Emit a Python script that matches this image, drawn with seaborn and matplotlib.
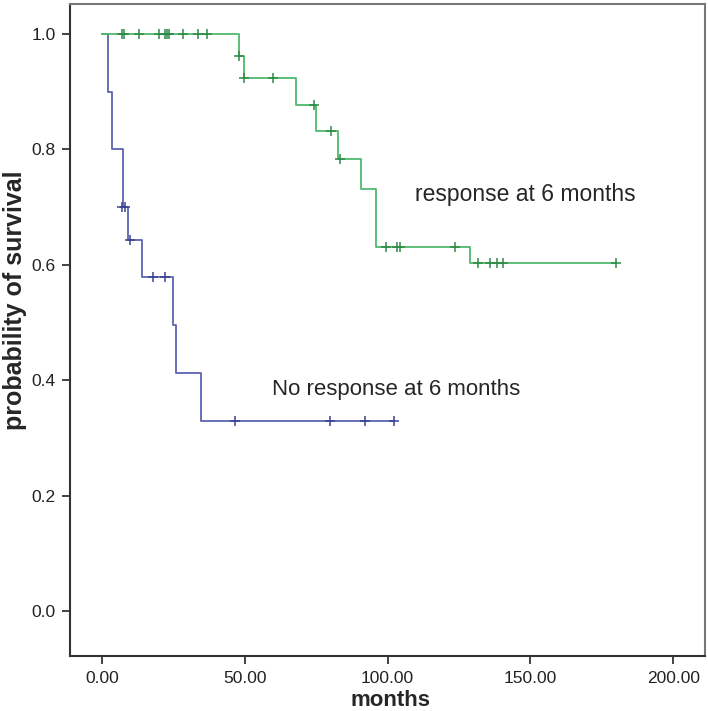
import matplotlib
matplotlib.use("Agg")
import matplotlib.pyplot as plt
import seaborn as sns
import pandas as pd

# ---- data ----
resp_t = [0, 48.0, 49.6, 68.0, 74.8, 82.6, 90.8, 95.8, 128.9, 180.0]
resp_s = [1.0, 0.962, 0.923, 0.877, 0.832, 0.783, 0.732, 0.630, 0.603, 0.603]
resp_cens_t = [6.9, 7.8, 13.0, 20.0, 22.0, 22.6, 23.4, 28.2, 33.7, 36.9,
               48.0, 49.6, 59.9, 74.1, 80.0, 83.4,
               99.5, 103.3, 104.4, 123.6,
               131.7, 135.9, 138.3, 140.4, 180.0]
resp_cens_s = [1.0] * 10 + [0.962, 0.923, 0.923, 0.877, 0.832, 0.783,
               0.630, 0.630, 0.630, 0.630,
               0.603, 0.603, 0.603, 0.603, 0.603]

no_t = [0, 2.1, 3.4, 7.2, 9.0, 14.1, 24.9, 25.9, 34.8, 102.4]
no_s = [1.0, 0.90, 0.80, 0.70, 0.643, 0.578, 0.496, 0.413, 0.330, 0.330]
no_cens_t = [7.0, 8.2, 9.8, 17.9, 22.0, 46.5, 79.7, 92.0, 102.4]
no_cens_s = [0.70, 0.70, 0.643, 0.578, 0.578, 0.330, 0.330, 0.330, 0.330]

xticks = [0, 50, 100, 150, 200]
xticklabels = ["0.00", "50.00", "100.00", "150.00", "200.00"]
yticks = [0.0, 0.2, 0.4, 0.6, 0.8, 1.0]
yticklabels = ["0.0", "0.2", "0.4", "0.6", "0.8", "1.0"]

sns.set_style("white")
plt.rcParams['font.family'] = ['Liberation Sans', 'DejaVu Sans']

fig = plt.figure(figsize=(7.08, 7.11), dpi=100)
ax = fig.add_axes([0.099, 0.0774, 0.897, 0.917])

green_line = "#4dba6c"
green_mark = "#2f8a48"
blue_line = "#5c63b3"
blue_mark = "#3a4290"

df_no = pd.DataFrame({"t": no_t, "s": no_s})
df_resp = pd.DataFrame({"t": resp_t, "s": resp_s})
sns.lineplot(data=df_no, x="t", y="s", ax=ax, estimator=None, sort=False,
             drawstyle="steps-post", color=blue_line, linewidth=1.3)
sns.lineplot(data=df_resp, x="t", y="s", ax=ax, estimator=None, sort=False,
             drawstyle="steps-post", color=green_line, linewidth=1.3)

sns.scatterplot(x=no_cens_t, y=no_cens_s, ax=ax, marker="+", color=blue_mark,
                s=60, linewidth=1.1, zorder=5)
sns.scatterplot(x=resp_cens_t, y=resp_cens_s, ax=ax, marker="+", color=green_mark,
                s=60, linewidth=1.1, zorder=5)

ax.text(109.5, 0.721, "response at 6 months", fontsize=16.5, va="center", ha="left")
ax.text(59.5, 0.383, "No response at 6 months", fontsize=16, va="center", ha="left")

ax.set_xlim(-11.2, 211.2)
ax.set_ylim(-0.078, 1.052)
ax.set_xticks(xticks)
ax.set_xticklabels(xticklabels)
ax.set_yticks(yticks)
ax.set_yticklabels(yticklabels)
ax.tick_params(axis="both", direction="out", length=6, width=1.2, colors="#222222",
               labelsize=12.5, labelcolor="#222222", left=True, bottom=True, pad=4.5)
ax.set_xlabel("months", fontsize=16, fontweight="bold")
ax.set_ylabel("probability of survival", fontsize=18, fontweight="bold")
ax.xaxis.label.set_va("center")
ax.yaxis.label.set_va("center")
ax.xaxis.set_label_coords(0.505, -0.068)
ax.yaxis.set_label_coords(-0.087, 0.546)

for side in ["left", "bottom"]:
    ax.spines[side].set_color("#333333")
    ax.spines[side].set_linewidth(1.5)
for side in ["top", "right"]:
    ax.spines[side].set_color("#777777")
    ax.spines[side].set_linewidth(1.5)
ax.grid(False)

fig.savefig("out.png", dpi=100)
